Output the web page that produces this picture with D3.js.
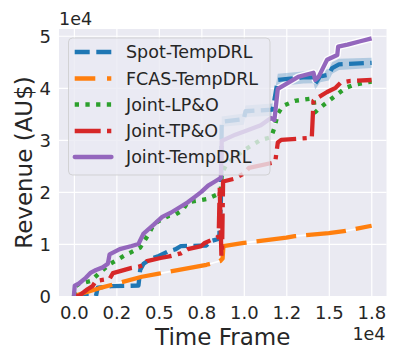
<!DOCTYPE html>
<html>
<head>
<meta charset="utf-8">
<script src="https://cdn.jsdelivr.net/npm/d3@7"></script>
<style>
  html, body { margin: 0; padding: 0; background: #ffffff; }
  svg { display: block; font-family: "DejaVu Sans", sans-serif; }
</style>
</head>
<body>
<svg id="chart" width="399" height="363"></svg>
<script>
// ---- data (x: time frame, y: revenue in AU$) ----
const seriesNames = ["Spot-TempDRL", "FCAS-TempDRL", "Joint-LP&O", "Joint-TP&O", "Joint-TempDRL"];

const spotTempDRL = [[0,0],[1300,0],[1400,1600],[2200,1900],[3800,2000],[3900,5000],[4100,6200],[4500,7100],[5000,7700],[5500,8500],[6000,9000],[6300,9600],[7800,9700],[8000,10500],[8550,11000],[8650,18000],[8700,33500],[10000,34000],[10100,35500],[11700,35800],[12000,41500],[13500,42000],[14100,42000],[14200,40800],[14500,42200],[15000,42500],[15200,43800],[15600,44500],[17520,44800]];
const spotBandHalf = [[8700,1000],[12000,1200],[15000,1100],[17520,1000]];

const fcasTempDRL = [[0,0],[1500,1500],[4000,3700],[5000,4300],[7800,6000],[8600,6700],[8750,7200],[8800,9600],[10000,10200],[12500,11200],[13000,11500],[15000,12100],[16000,12500],[17520,13500]];

const jointLPO = [[0,0],[100,1900],[300,2300],[1000,2900],[1500,4400],[2100,6100],[3100,8000],[3300,8300],[3900,9300],[4400,11900],[4700,13800],[5000,14400],[5600,15400],[6000,15700],[6400,16500],[6700,18000],[7800,18600],[8500,19600],[8650,20600],[8700,23500],[9000,25500],[10000,28000],[10500,29000],[11000,30000],[11600,30500],[11800,32300],[12000,35000],[12300,36500],[13000,37500],[14100,38000],[14200,35300],[14500,36200],[15000,37500],[15600,39000],[16000,40000],[16500,40600],[17520,41200]];

const jointTPO = [[0,0],[300,0],[800,1300],[1100,1900],[1300,2900],[2100,3300],[2300,4400],[3400,5400],[3800,5600],[4200,6100],[4300,6700],[5100,7300],[5600,7600],[6300,8200],[6700,9000],[7500,9600],[7700,10200],[8400,11200],[8520,11500],[8550,16000],[8580,21000],[8680,7700],[8720,8500],[8780,22000],[9400,22500],[10000,23500],[10300,24600],[11700,25600],[11850,25800],[12000,29500],[12200,30000],[14000,30400],[14100,37500],[14300,38000],[14900,39200],[15400,40000],[15700,41000],[16200,41300],[17520,41500]];

const jointTempDRL = [[0,0],[50,2000],[300,2400],[700,3500],[1000,4500],[1300,5000],[1700,5500],[2000,6200],[2100,8000],[2700,9000],[3400,9600],[3800,10000],[4100,12000],[4700,13700],[5200,15200],[5700,16000],[6300,17200],[6700,18000],[7100,19000],[7500,20000],[7900,21200],[8300,22000],[8650,22700],[8700,29800],[9500,31000],[10100,31700],[11000,32800],[11600,34200],[11800,33800],[12000,39800],[13200,42100],[14100,42900],[14200,41500],[14400,42100],[14900,45400],[15500,46300],[15550,47900],[16100,48300],[16800,48900],[17520,49500]];

const xTicks = [0, 2500, 5000, 7500, 10000, 12500, 15000, 17500];
const xTickLabels = ["0.0", "0.2", "0.5", "0.8", "1.0", "1.2", "1.5", "1.8"];
const yTicks = [0, 10000, 20000, 30000, 40000, 50000];
const yTickLabels = ["0", "1", "2", "3", "4", "5"];

// ---- layout ----
const svg = d3.select("#chart");
const L = 59, R = 386.5, T = 29, B = 296;
const x = d3.scaleLinear().domain([-876, 18396]).range([L, R]);
const y = d3.scaleLinear().domain([0, 51300]).range([B, T]);

svg.append("rect").attr("x", L).attr("y", T).attr("width", R - L).attr("height", B - T).attr("fill", "#EAEAF2");

// grid
const gx = svg.append("g").attr("transform", `translate(0,${B})`)
  .call(d3.axisBottom(x).tickValues(xTicks).tickSize(-(B - T)).tickFormat((d, i) => xTickLabels[i]));
const gy = svg.append("g").attr("transform", `translate(${L},0)`)
  .call(d3.axisLeft(y).tickValues(yTicks).tickSize(-(R - L)).tickFormat((d, i) => yTickLabels[i]));
[gx, gy].forEach(g => {
  g.select(".domain").remove();
  g.selectAll(".tick line").attr("stroke", "#ffffff").attr("stroke-width", 1.2);
  g.selectAll(".tick text").attr("fill", "#262626").attr("font-size", 18).attr("font-family", "DejaVu Sans");
});
gx.selectAll(".tick text").attr("y", 10).attr("dy", "0.71em");
gy.selectAll(".tick text").attr("x", -8).attr("dy", "0.36em");

// clip
svg.append("clipPath").attr("id", "clip").append("rect").attr("x", L).attr("y", T).attr("width", R - L).attr("height", B - T);
const plot = svg.append("g").attr("clip-path", "url(#clip)");

const line = d3.line().x(d => x(d[0])).y(d => y(d[1]));

// blue band
const bandHalf = d3.scaleLinear().domain(spotBandHalf.map(d => d[0])).range(spotBandHalf.map(d => d[1])).clamp(true);
const bandPts = spotTempDRL.filter(d => d[0] >= 8700);
plot.append("path")
  .attr("d", d3.area().x(d => x(d[0])).y0(d => y(d[1] - bandHalf(d[0]))).y1(d => y(d[1] + bandHalf(d[0])))(bandPts))
  .attr("fill", "#1f77b4").attr("opacity", 0.28);

// white guide under orange
plot.append("path").attr("d", line(fcasTempDRL)).attr("fill", "none").attr("stroke", "#ffffff").attr("stroke-width", 1.6);

const styles = [
  { data: spotTempDRL, color: "#1f77b4", dash: "14.8,6.4", legDash: "15,6.6" },
  { data: fcasTempDRL, color: "#ff7f0e", dash: "40,10", legDash: "20.6,11.7,4.3,11.7" },
  { data: jointLPO, color: "#2ca02c", dash: "4.2,6.4", legDash: "4.3,6.4" },
  { data: jointTPO, color: "#d62728", dash: "25.6,6.4,4.2,6.4", legDash: "26,6.3,4.3,6.3" },
  { data: jointTempDRL, color: "#9467bd", dash: null, legDash: null }
];

// white halo for purple (later part)
plot.append("path").attr("d", line(jointTempDRL.filter(d => d[0] >= 11600)))
  .attr("fill", "none").attr("stroke", "#ffffff").attr("stroke-width", 7).attr("stroke-linejoin", "round").attr("opacity", 0.9);

styles.forEach(s => {
  plot.append("path").attr("d", line(s.data))
    .attr("fill", "none").attr("stroke", s.color).attr("stroke-width", 4.3)
    .attr("stroke-linejoin", "round")
    .attr("stroke-dasharray", s.dash);
});

// legend
const lg = svg.append("g");
lg.append("rect").attr("x", 68.5).attr("y", 38).attr("width", 201.5).attr("height", 137).attr("rx", 4)
  .attr("fill", "#EAEAF2").attr("fill-opacity", 0.8).attr("stroke", "#cccccc").attr("stroke-opacity", 0.8).attr("stroke-width", 1);
const rowY = [52, 78.5, 104.5, 131, 157];
styles.forEach((s, i) => {
  lg.append("line").attr("x1", 74.7).attr("x2", 111.5).attr("y1", rowY[i]).attr("y2", rowY[i])
    .attr("stroke", s.color).attr("stroke-width", 4.3).attr("stroke-dasharray", s.legDash)
    .attr("stroke-linecap", s.dash ? "butt" : "round");
  lg.append("text").attr("x", 126).attr("y", rowY[i]).attr("dy", "0.36em")
    .attr("font-size", 17.5).attr("fill", "#262626").text(seriesNames[i]);
});

// axis labels
svg.append("text").attr("x", (L + R) / 2).attr("y", 345).attr("text-anchor", "middle")
  .attr("font-size", 23).attr("fill", "#262626").text("Time Frame");
svg.append("text").attr("transform", `translate(32,${(T + B) / 2}) rotate(-90)`).attr("text-anchor", "middle")
  .attr("font-size", 23).attr("fill", "#262626").text("Revenue (AU$)");
// offset texts
svg.append("text").attr("x", L).attr("y", 25).attr("font-size", 17.5).attr("fill", "#262626").text("1e4");
svg.append("text").attr("x", R - 1).attr("y", 340).attr("text-anchor", "end").attr("font-size", 17.5).attr("fill", "#262626").text("1e4");
</script>
</body>
</html>
